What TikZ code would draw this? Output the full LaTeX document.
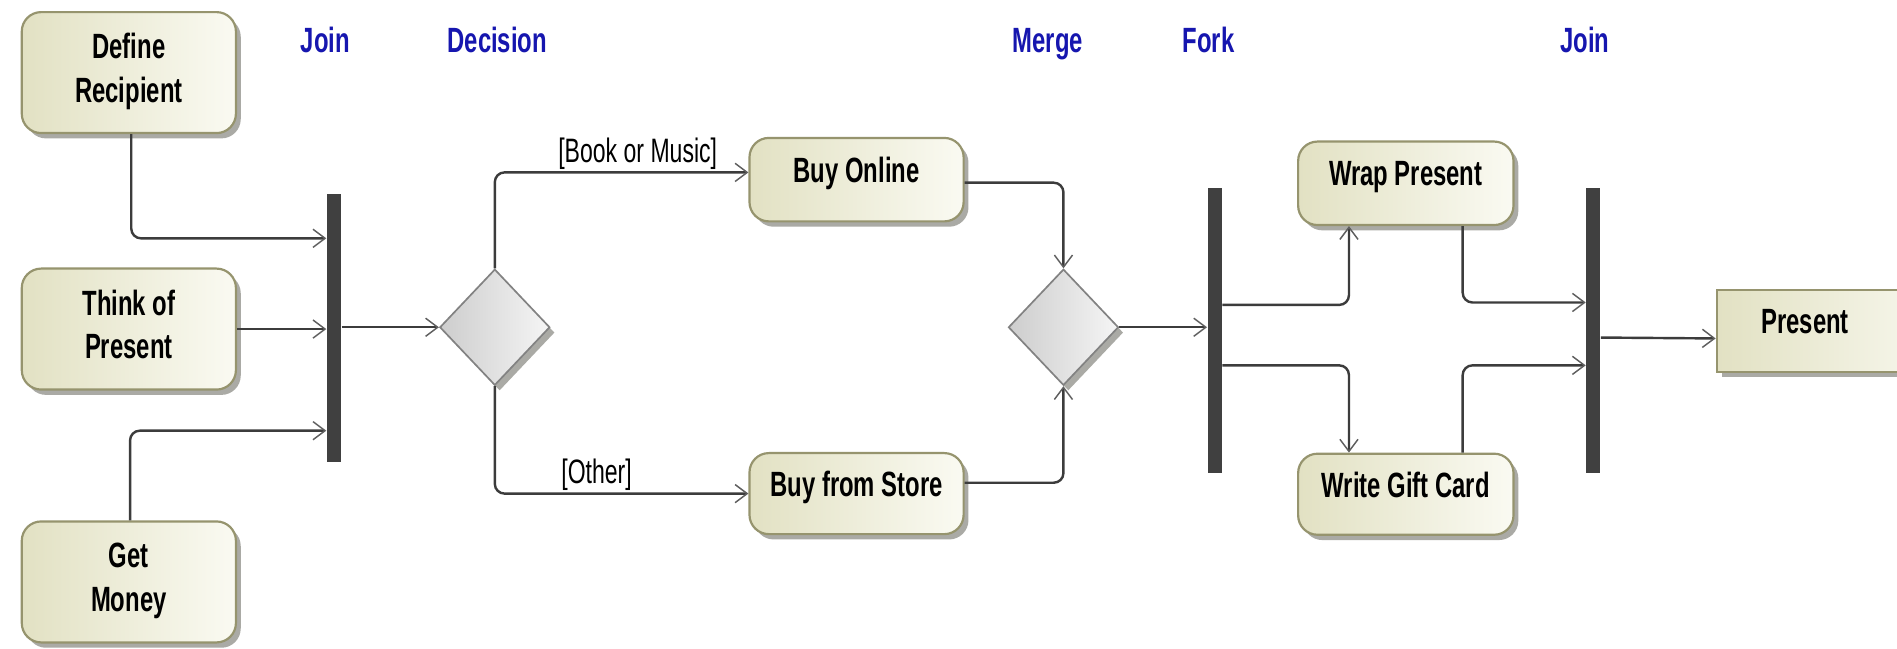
\documentclass[tikz,border=0pt]{standalone}
\usepackage{fontspec}
\newfontfamily\narrow[FakeStretch=0.68]{Liberation Sans}
\usetikzlibrary{shapes.geometric,arrows.meta}
\definecolor{boxL}{RGB}{226,225,195}
\definecolor{boxR}{RGB}{250,250,242}
\definecolor{boxB}{RGB}{150,148,110}
\definecolor{shad}{RGB}{170,170,165}
\definecolor{diaL}{RGB}{205,205,205}
\definecolor{diaR}{RGB}{245,245,245}
\definecolor{diaB}{RGB}{130,130,130}
\definecolor{barC}{RGB}{64,64,64}
\definecolor{lineC}{RGB}{60,60,60}
\definecolor{tipC}{RGB}{95,95,95}
\definecolor{lblue}{RGB}{22,22,175}
\tikzset{
  x=0.5pt, y=-0.5pt,
  shadowed/.style={preaction={fill=shad, transform canvas={xshift=2pt,yshift=-2.2pt}}},
  action/.style={shadowed, draw=boxB, line width=0.9pt, left color=boxL, right color=boxR,
    rounded corners=8pt, minimum width=88.5pt, minimum height=34.5pt, inner sep=1pt,
    text depth=8pt, align=center, font=\narrow\bfseries\fontsize{14.5}{18}\selectfont},
  bigaction/.style={action, minimum height=50pt, text depth=4pt},
  objbox/.style={shadowed, draw=boxB, line width=0.9pt, left color=boxL, right color=boxR,
    minimum width=100.5pt, minimum height=33.75pt, inner sep=1pt, text depth=8pt,
    font=\narrow\bfseries\fontsize{14.5}{18.5}\selectfont},
  dia/.style={shadowed, diamond, draw=diaB, line width=0.7pt, left color=diaL, right color=diaR,
    minimum width=45.5pt, minimum height=48pt, inner sep=0pt},
  bar/.style={fill=barC, draw=none, minimum width=5.9pt, inner sep=0pt},
  toplbl/.style={anchor=base, text=lblue, font=\narrow\bfseries\fontsize{14.5}{17}\selectfont},
  guard/.style={font=\narrow\fontsize{14}{16}\selectfont, inner sep=0.6pt, text=black},
  flow/.style={draw=lineC, line width=1pt, rounded corners=4pt,
    -{Straight Barb[length=5pt,width=7.5pt,line width=0.6pt,color=tipC]}},
}
\begin{document}
\begin{tikzpicture}
\useasboundingbox (0,0) rectangle (1568,536);
\clip (0,0) rectangle (1568,536);
\fill[white] (0,0) rectangle (1568,536);

% top labels
\node[toplbl] (lj1) at (269,43) {Join};
\node[toplbl] (ldec) at (411,43) {Decision};
\node[toplbl] (lmerge) at (866,43) {Merge};
\node[toplbl] (lfork) at (999,43) {Fork};
\node[toplbl] (lj2) at (1310,43) {Join};

% actions
\node[bigaction] (dr) at (106.5,60) {Define\\Recipient};
\node[bigaction] (tp) at (106.5,272) {Think of\\Present};
\node[bigaction] (gm) at (106.5,481) {Get\\Money};
\node[action] (bo) at (708,148.5) {Buy Online};
\node[action, minimum height=33.5pt] (bs) at (708,408) {Buy from Store};
\node[action, minimum width=89pt] (wp) at (1162,151.5) {Wrap Present};
\node[action, minimum width=89pt, minimum height=33.5pt] (wg) at (1162,408.5) {Write Gift Card};
\node[objbox] (pr) at (1519.5,273.75) {Present\hspace*{27.5pt}};

% bars
\node[bar, minimum height=111pt] (j1) at (276,271) {};
\node[bar, minimum height=117.75pt] (fork) at (1004,273) {};
\node[bar, minimum height=117.75pt] (j2) at (1317,273) {};

% diamonds
\node[dia] (dec) at (409,270.5) {};
\node[dia] (merge) at (879,270.5) {};

% connectors
\draw[flow] ([xshift=1pt]dr.south) |- ([yshift=37pt]j1.west);
\draw[flow] (tp.east) -- (tp.east -| j1.west);
\draw[flow] ([xshift=0.5pt]gm.north) |- ([yshift=-42.5pt]j1.west);
\draw[flow] (j1.east |- dec.west) -- (dec.west);
\draw[flow] (dec.north) |- node[pos=0.62, guard, anchor=south west] {[Book or Music]} ([yshift=3pt]bo.west);
\draw[flow] (dec.south) |- node[pos=0.626, guard, anchor=south west] {[Other]} (bs.west);
\draw[flow] ([yshift=-1.25pt]bo.east) -| (merge.north);
\draw[flow] ([yshift=4.5pt]bs.east) -| (merge.south);
\draw[flow] (merge.east) -- (merge.east -| fork.west);
\draw[flow] ([yshift=10.5pt]fork.east) -| ([xshift=-23.5pt]wp.south);
\draw[flow] ([yshift=-14.5pt]fork.east) -| ([xshift=-23.5pt]wg.north);
\draw[flow] ([xshift=23.5pt]wp.south) |- ([yshift=11.5pt]j2.west);
\draw[flow] ([xshift=23.5pt]wg.north) |- ([yshift=-14.5pt]j2.west);
\draw[flow] ([yshift=-3pt]j2.east) -- ([yshift=-3pt]pr.west);
\end{tikzpicture}
\end{document}
